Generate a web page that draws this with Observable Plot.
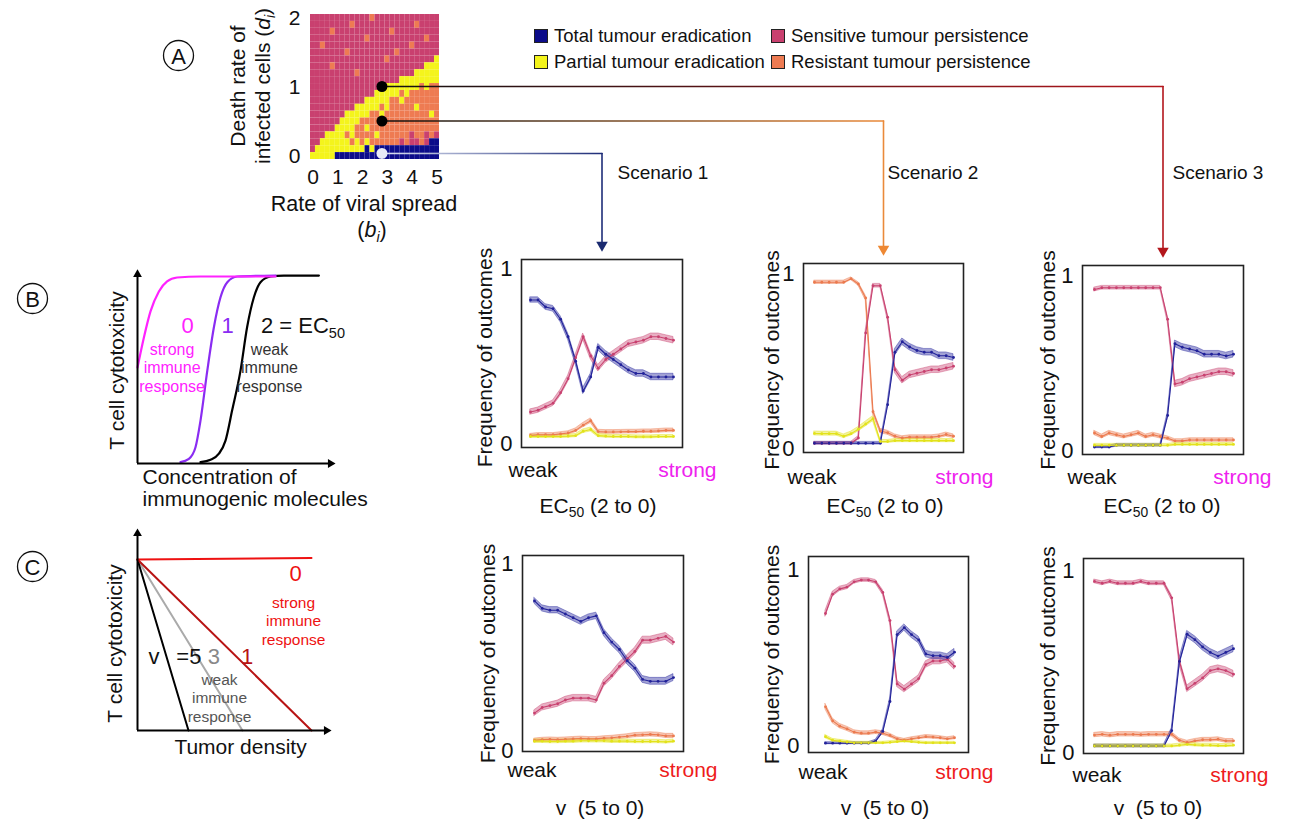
<!DOCTYPE html>
<html>
<head>
<meta charset="utf-8">
<script src="https://cdn.jsdelivr.net/npm/d3@7"></script>
<script src="https://cdn.jsdelivr.net/npm/@observablehq/plot@0.6"></script>
<style>
html,body{margin:0;padding:0;background:#fff;}
#root{position:relative;width:1293px;height:819px;overflow:hidden;font-family:"Liberation Sans",Arial,Helvetica,sans-serif;color:#111;}
#root svg{position:absolute;}
.lbl{position:absolute;white-space:nowrap;transform:translate(-50%,-50%);line-height:1;}
.lbl sub{font-size:0.66em;vertical-align:-0.35em;line-height:0;}
.rot{transform:translate(-50%,-50%) rotate(-90deg);text-align:center;line-height:25px;}
.leg{position:absolute;display:flex;align-items:center;font-size:18.5px;white-space:nowrap;transform:translateY(-50%);}
.sw{width:12px;height:12px;border:1.6px solid #222;margin-right:6px;}
</style>
</head>
<body>
<div id="root"></div>
<script>
// ================= DATA =================
const outcomes = ["Total tumour eradication", "Partial tumour eradication", "Sensitive tumour persistence", "Resistant tumour persistence"];
const heatColors = ["#0c0c8a", "#f4f41c", "#c9406f", "#ee7b52"];
const lineColors = ["#22229a", "#e2e21a", "#c8416f", "#eb7a4f"];

// Panel A: outcome map (rows from d = 2 at top to d = 0 at bottom)
const bValues = [0, 0.2, 0.4, 0.6, 0.8, 1, 1.2, 1.4, 1.6, 1.8, 2, 2.2, 2.4, 2.6, 2.8, 3, 3.2, 3.4, 3.6, 3.8, 4, 4.2, 4.4, 4.6, 4.8, 5];
const dValues = [2, 1.9, 1.8, 1.7, 1.6, 1.5, 1.4, 1.3, 1.2, 1.1, 1, 0.9, 0.8, 0.7, 0.6, 0.5, 0.4, 0.3, 0.2, 0.1, 0];
const gridRows = [
  "PPPPPPPPPPPPOPPPPPPPPPPPPP",
  "PPPPPPPPOPPPPPPPPPPPPOPPPP",
  "PPPPOPPPPPPPPPPPOPPPPPPPPP",
  "PPPPPPPPPPPOPPPPPPPPPPPOPP",
  "PPOPPPPPPPPPPPPPPPPPOPPPPP",
  "PPPPPPPOPPPPPPPPPOPPPPPPPP",
  "PPPPPPPPPPPPPPPOPPPPPPPPPY",
  "PPPPOPPPPPPPPPPPPPPPPPPYYY",
  "PPPPPPPPPOPPPPPPPPPPPYYYYY",
  "PPPPPPPPPPPPPPPPPPYYYYYYYY",
  "PPPPPPPPPPPPPPPYYYYYYYOYOO",
  "PPPPPPPPPPPPPYYYYYOYOOOOOO",
  "PPPPPPPPPPPYYYYYOOYOOOOOOO",
  "PPPPPPPPPYYYYYOYOOOOOYOOOO",
  "PPPPPPPYYYYYOOYOOOOOOOOOYO",
  "PPPPPPYYYYOOOOYOOOOOOOOOOO",
  "PPPPPYYYYOOYOOOOOOOOOOOOOO",
  "PPPYYYYOYOOOOYOOOOOOPOOPOP",
  "PPYYYYYYOYOYOOOOOOPOPPOPNN",
  "PYYYYYYYYYYNYNNNNNNNNNNNNN",
  "YYYYYNNNNNNNNNNNNNNNNNNNNN"
];
const gridCodes = {N: outcomes[0], Y: outcomes[1], P: outcomes[2], O: outcomes[3]};
const xTicksA = [0, 1, 2, 3, 4, 5];
const yTicksA = [0, 1, 2];
const yTicksSmall = [0, 1];

const scenarioNames = ["Scenario 1", "Scenario 2", "Scenario 3"];
const scenarioB = [2.8, 2.8, 2.8];
const scenarioD = [0.03, 0.5, 1.0];

// Row B: EC50 varied (2 to 0)
const s1EC50Total = [0.82, 0.82, 0.78, 0.77, 0.71, 0.61, 0.47, 0.30, 0.38, 0.55, 0.51, 0.48, 0.45, 0.42, 0.40, 0.40, 0.38, 0.38, 0.38, 0.38];
const s1EC50Partial = [0.04, 0.04, 0.04, 0.04, 0.04, 0.042, 0.045, 0.07, 0.08, 0.045, 0.042, 0.04, 0.04, 0.04, 0.038, 0.038, 0.038, 0.04, 0.04, 0.04];
const s1EC50Sensitive = [0.18, 0.19, 0.21, 0.23, 0.29, 0.37, 0.49, 0.61, 0.50, 0.43, 0.48, 0.51, 0.54, 0.57, 0.58, 0.59, 0.61, 0.61, 0.60, 0.59];
const s1EC50Resistant = [0.046, 0.05, 0.05, 0.05, 0.055, 0.06, 0.075, 0.105, 0.13, 0.068, 0.066, 0.066, 0.067, 0.068, 0.068, 0.07, 0.07, 0.072, 0.075, 0.075];

const s2EC50Total = [0.03, 0.03, 0.03, 0.03, 0.03, 0.03, 0.03, 0.03, 0.03, 0.03, 0.25, 0.55, 0.61, 0.58, 0.56, 0.55, 0.55, 0.53, 0.53, 0.52];
const s2EC50Partial = [0.086, 0.085, 0.085, 0.085, 0.07, 0.085, 0.11, 0.14, 0.17, 0.04, 0.04, 0.045, 0.045, 0.045, 0.045, 0.045, 0.045, 0.045, 0.045, 0.045];
const s2EC50Sensitive = [0.03, 0.03, 0.03, 0.03, 0.03, 0.03, 0.06, 0.66, 0.93, 0.93, 0.75, 0.45, 0.39, 0.42, 0.43, 0.44, 0.45, 0.45, 0.46, 0.47];
const s2EC50Resistant = [0.95, 0.95, 0.95, 0.95, 0.95, 0.97, 0.94, 0.86, 0.21, 0.10, 0.09, 0.07, 0.06, 0.065, 0.065, 0.065, 0.065, 0.07, 0.08, 0.07];

const s3EC50Total = [0.02, 0.02, 0.02, 0.03, 0.03, 0.03, 0.03, 0.03, 0.03, 0.03, 0.20, 0.61, 0.59, 0.58, 0.57, 0.55, 0.55, 0.55, 0.54, 0.55];
const s3EC50Partial = [0.03, 0.03, 0.03, 0.03, 0.03, 0.03, 0.03, 0.03, 0.03, 0.03, 0.03, 0.035, 0.035, 0.035, 0.035, 0.035, 0.035, 0.035, 0.035, 0.035];
const s3EC50Sensitive = [0.92, 0.93, 0.93, 0.93, 0.93, 0.93, 0.93, 0.93, 0.93, 0.93, 0.75, 0.38, 0.39, 0.41, 0.42, 0.43, 0.44, 0.45, 0.45, 0.44];
const s3EC50Resistant = [0.10, 0.08, 0.10, 0.09, 0.08, 0.09, 0.10, 0.08, 0.09, 0.08, 0.07, 0.055, 0.055, 0.06, 0.06, 0.06, 0.06, 0.06, 0.06, 0.06];

// Row C: v varied (5 to 0)
const s1VTotal = [0.80, 0.76, 0.75, 0.75, 0.73, 0.71, 0.69, 0.71, 0.72, 0.63, 0.58, 0.54, 0.48, 0.44, 0.38, 0.37, 0.37, 0.37, 0.39];
const s1VPartial = [0.05, 0.05, 0.048, 0.048, 0.05, 0.05, 0.052, 0.052, 0.052, 0.052, 0.05, 0.05, 0.05, 0.048, 0.048, 0.048, 0.048, 0.046, 0.05];
const s1VSensitive = [0.20, 0.23, 0.24, 0.25, 0.27, 0.28, 0.28, 0.28, 0.27, 0.36, 0.40, 0.45, 0.49, 0.53, 0.59, 0.59, 0.60, 0.61, 0.58];
const s1VResistant = [0.054, 0.058, 0.06, 0.058, 0.06, 0.062, 0.064, 0.062, 0.062, 0.066, 0.068, 0.072, 0.076, 0.082, 0.084, 0.086, 0.084, 0.078, 0.078];

const s2VTotal = [0.013, 0.013, 0.013, 0.013, 0.013, 0.013, 0.013, 0.025, 0.08, 0.25, 0.63, 0.67, 0.63, 0.60, 0.52, 0.51, 0.51, 0.50, 0.53];
const s2VPartial = [0.05, 0.03, 0.025, 0.02, 0.015, 0.015, 0.015, 0.015, 0.015, 0.018, 0.022, 0.025, 0.022, 0.018, 0.015, 0.015, 0.015, 0.015, 0.015];
const s2VSensitive = [0.75, 0.86, 0.89, 0.90, 0.93, 0.94, 0.94, 0.93, 0.87, 0.71, 0.35, 0.32, 0.35, 0.38, 0.46, 0.48, 0.48, 0.49, 0.45];
const s2VResistant = [0.22, 0.14, 0.11, 0.095, 0.076, 0.07, 0.07, 0.076, 0.07, 0.057, 0.038, 0.03, 0.038, 0.044, 0.05, 0.048, 0.044, 0.038, 0.044];

const s3VTotal = [0.036, 0.036, 0.036, 0.036, 0.036, 0.036, 0.036, 0.036, 0.036, 0.036, 0.12, 0.50, 0.65, 0.62, 0.58, 0.55, 0.53, 0.55, 0.57];
const s3VPartial = [0.036, 0.036, 0.036, 0.036, 0.036, 0.036, 0.036, 0.036, 0.036, 0.036, 0.036, 0.04, 0.045, 0.042, 0.04, 0.04, 0.038, 0.038, 0.04];
const s3VSensitive = [0.94, 0.93, 0.94, 0.93, 0.93, 0.93, 0.94, 0.93, 0.93, 0.93, 0.85, 0.50, 0.35, 0.38, 0.41, 0.45, 0.46, 0.45, 0.43];
const s3VResistant = [0.096, 0.10, 0.095, 0.10, 0.10, 0.10, 0.098, 0.10, 0.10, 0.10, 0.10, 0.067, 0.055, 0.064, 0.07, 0.07, 0.073, 0.064, 0.064];

// Schematic B: T cell cytotoxicity vs concentration (EC50 = 0, 1, 2)
const ec50Curve0 = [[0, 0.49], [0.32, 0.643], [0.65, 0.776], [1.07, 0.878], [1.48, 0.929], [1.98, 0.949], [3.15, 0.954], [6.9, 0.954]];
const ec50Curve1 = [[2.15, 0.007], [2.57, 0.024], [2.9, 0.083], [3.15, 0.219], [3.49, 0.474], [3.82, 0.695], [4.15, 0.848], [4.49, 0.925], [4.99, 0.954], [6.9, 0.959]];
const ec50Curve2 = [[3.15, 0.007], [3.65, 0.019], [4.07, 0.05], [4.4, 0.117], [4.73, 0.27], [5.15, 0.474], [5.48, 0.695], [5.82, 0.848], [6.15, 0.925], [6.65, 0.954], [7.32, 0.959], [9.07, 0.959]];
// Schematic C: T cell cytotoxicity vs tumour density (v = 0, 1, 3, 5)
const vLine0 = [[0, 0.855], [8.7, 0.862]];
const vLine1 = [[0, 0.855], [8.7, 0]];
const vLine3 = [[0, 0.855], [5.25, 0]];
const vLine5 = [[0, 0.855], [2.55, 0]];

// ================= HELPERS =================
const FONT = "'Liberation Sans', Arial, Helvetica, sans-serif";
const baseStyle = {fontFamily: FONT, background: "transparent", overflow: "visible", color: "#111"};
const root = document.getElementById("root");
function put(svg, left, top) {
  svg.style.position = "absolute";
  svg.style.left = left + "px";
  svg.style.top = top + "px";
  root.appendChild(svg);
  return svg;
}
function html(content, cx, cy, size, color, cls) {
  const d = document.createElement("div");
  d.className = "lbl" + (cls ? " " + cls : "");
  d.style.left = cx + "px";
  d.style.top = cy + "px";
  d.style.fontSize = size + "px";
  if (color) d.style.color = color;
  d.innerHTML = content;
  root.appendChild(d);
  return d;
}
// confidence band half-width (binomial standard-error style, for the shaded ribbons)
const band = v => 0.002 + 0.034 * Math.sqrt(Math.max(v, 0) * Math.max(1 - v, 0));

// ================= PANEL B schematic =================
const B = {left: 97, top: 257, mL: 40, mT: 10, mR: 12, mB: 50, fw: 200, fh: 196};
const plotB = Plot.plot({
  width: B.mL + B.fw + B.mR, height: B.mT + B.fh + B.mB,
  marginLeft: B.mL, marginTop: B.mT, marginRight: B.mR, marginBottom: B.mB,
  style: baseStyle,
  x: {domain: [0, 10], axis: null}, y: {domain: [0, 1], axis: null},
  marks: [
    Plot.line(ec50Curve2, {stroke: "#000", strokeWidth: 2.2, curve: "monotone-x"}),
    Plot.line(ec50Curve1, {stroke: "#8a2cf2", strokeWidth: 2.2, curve: "monotone-x"}),
    Plot.line(ec50Curve0, {stroke: "#ff22ff", strokeWidth: 2.2, curve: "monotone-x"}),
    Plot.ruleX([0], {y1: 0, y2: 0.97, stroke: "#000", strokeWidth: 2}),
    Plot.ruleY([0], {x1: 0, x2: 9.7, stroke: "#000", strokeWidth: 2}),
    Plot.dot([[0, 0.965]], {symbol: "triangle2", r: 4.2, fill: "#000", rotate: 0}),
    Plot.dot([[9.65, 0]], {symbol: "triangle2", r: 4.2, fill: "#000", rotate: 90}),
    Plot.text([{x: 2.5, y: 0.704, t: "0", c: "#ff22ff"}, {x: 4.5, y: 0.704, t: "1", c: "#8a2cf2"}],
      {x: "x", y: "y", text: "t", fill: "c", fontSize: 22}),
    Plot.text(["strong\nimmune\nresponse"], {x: 1.73, y: 0.49, text: d => d, fill: "#ff22ff", fontSize: 16, lineHeight: 1.15}),
    Plot.text(["weak\nimmune\nresponse"], {x: 6.6, y: 0.49, text: d => d, fill: "#333", fontSize: 16, lineHeight: 1.15}),
    Plot.text(["T cell cytotoxicity"], {frameAnchor: "left", text: d => d, rotate: -90, dx: -20, dy: 5, textAnchor: "middle", lineAnchor: "middle", fontSize: 21}),
    Plot.text(["Concentration of\nimmunogenic molecules"], {frameAnchor: "bottom-left", text: d => d, textAnchor: "start", lineAnchor: "top", dx: 5, dy: 5, fontSize: 21, lineHeight: 1.05})
  ]
});
put(plotB, B.left, B.top);
html("2 = EC<sub>50</sub>", 303, 326, 22, "#111");

// ================= PANEL C schematic =================
const C = {left: 97, top: 516, mL: 40, mT: 10, mR: 12, mB: 35, fw: 200, fh: 204};
const plotC = Plot.plot({
  width: C.mL + C.fw + C.mR, height: C.mT + C.fh + C.mB,
  marginLeft: C.mL, marginTop: C.mT, marginRight: C.mR, marginBottom: C.mB,
  style: baseStyle,
  x: {domain: [0, 10], axis: null}, y: {domain: [0, 1.02], axis: null},
  marks: [
    Plot.line(vLine3, {stroke: "#aaaaaa", strokeWidth: 2}),
    Plot.line(vLine5, {stroke: "#000", strokeWidth: 2}),
    Plot.line(vLine1, {stroke: "#b81414", strokeWidth: 2}),
    Plot.line(vLine0, {stroke: "#ee1111", strokeWidth: 2}),
    Plot.ruleX([0], {y1: 0, y2: 0.99, stroke: "#000", strokeWidth: 2}),
    Plot.ruleY([0], {x1: 0, x2: 9.5, stroke: "#000", strokeWidth: 2}),
    Plot.dot([[0, 0.985]], {symbol: "triangle2", r: 4.2, fill: "#000", rotate: 0}),
    Plot.dot([[9.45, 0]], {symbol: "triangle2", r: 4.2, fill: "#000", rotate: 90}),
    Plot.text([
      {x: 7.9, y: 0.785, t: "0", c: "#ee1111"},
      {x: 0.82, y: 0.367, t: "v", c: "#111"},
      {x: 2.57, y: 0.367, t: "=5", c: "#111"},
      {x: 3.82, y: 0.367, t: "3", c: "#888"},
      {x: 5.48, y: 0.367, t: "1", c: "#b81414"}
    ], {x: "x", y: "y", text: "t", fill: "c", fontSize: 22}),
    Plot.text(["strong\nimmune\nresponse"], {x: 7.8, y: 0.55, text: d => d, fill: "#ee1111", fontSize: 15.5, lineHeight: 1.2}),
    Plot.text(["weak\nimmune\nresponse"], {x: 4.1, y: 0.165, text: d => d, fill: "#555", fontSize: 15.5, lineHeight: 1.2}),
    Plot.text(["T cell cytotoxicity"], {frameAnchor: "left", text: d => d, rotate: -90, dx: -22, dy: 15, textAnchor: "middle", lineAnchor: "middle", fontSize: 21}),
    Plot.text(["Tumor density"], {frameAnchor: "bottom", text: d => d, textAnchor: "middle", lineAnchor: "middle", dx: 3, dy: 17, fontSize: 21})
  ]
});
put(plotC, C.left, C.top);

// ================= PANEL A heat map =================
const A = {left: 259.5, top: 8.5, mL: 50, mT: 5, mR: 10, mB: 35, fw: 129, fh: 145};
const gridData = [];
dValues.forEach((d, r) => gridRows[r].split("").forEach((ch, c) => gridData.push({b: bValues[c], d, outcome: gridCodes[ch]})));
const plotA = Plot.plot({
  width: A.mL + A.fw + A.mR, height: A.mT + A.fh + A.mB,
  marginLeft: A.mL, marginTop: A.mT, marginRight: A.mR, marginBottom: A.mB,
  style: baseStyle,
  x: {domain: [-0.1, 5.1]}, y: {domain: [-0.05, 2.05]},
  color: {domain: outcomes, range: heatColors},
  marks: [
    Plot.rect(gridData, {x1: d => d.b - 0.1, x2: d => d.b + 0.1, y1: d => d.d - 0.05, y2: d => d.d + 0.05, fill: "outcome"}),
    Plot.axisX({ticks: xTicksA, tickFormat: "d", tickSize: 0, tickPadding: 10, fontSize: 21, label: null}),
    Plot.axisY({ticks: yTicksA, tickFormat: "d", tickSize: 0, tickPadding: 10, fontSize: 21, label: null})
  ]
});
put(plotA, A.left, A.top);
html("Death rate of<br>infected cells (<i>d<sub>i</sub></i>)", 250, 86, 21, "#111", "rot");
html("Rate of viral spread", 364, 205, 21.5, "#111");
html("(<i>b<sub>i</sub></i>)", 372, 231, 21.5, "#111");

// ================= small outcome panels =================
const panels = [
  {series: [s1EC50Total, s1EC50Partial, s1EC50Sensitive, s1EC50Resistant], frame: [521, 259, 682, 447], y1px: 268, y0px: 443, inset: [9, 9], yLabelDx: -36, yLabelDy: 4, weak: [-13, 23], strong: [34, 23], strongColor: "#ee22ee", xLabel: "EC<sub>50</sub> (2 to 0)", xLabelPos: [598, 505]},
  {series: [s2EC50Total, s2EC50Partial, s2EC50Sensitive, s2EC50Resistant], frame: [803, 263, 963, 452], y1px: 273, y0px: 448, inset: [11, 10], yLabelDx: -31, yLabelDy: 2, weak: [-16, 25], strong: [30, 25], strongColor: "#ee22ee", xLabel: "EC<sub>50</sub> (2 to 0)", xLabelPos: [885, 505]},
  {series: [s3EC50Total, s3EC50Partial, s3EC50Sensitive, s3EC50Resistant], frame: [1082, 265, 1243, 454], y1px: 275, y0px: 450, inset: [12, 10], yLabelDx: -34, yLabelDy: 0, weak: [-15, 23], strong: [28, 23], strongColor: "#ee22ee", xLabel: "EC<sub>50</sub> (2 to 0)", xLabelPos: [1162, 505]},
  {series: [s1VTotal, s1VPartial, s1VSensitive, s1VResistant], frame: [522, 555, 683, 751], y1px: 563, y0px: 750, inset: [12, 10], yLabelDx: -34, yLabelDy: 0, weak: [-15, 19], strong: [34, 19], strongColor: "#ee1c1c", xLabel: "v&nbsp;&nbsp;(5 to 0)", xLabelPos: [600, 807]},
  {series: [s2VTotal, s2VPartial, s2VSensitive, s2VResistant], frame: [808, 556, 968, 752], y1px: 569, y0px: 745, inset: [17, 14], yLabelDx: -36, yLabelDy: 0, weak: [-10, 20], strong: [25, 20], strongColor: "#ee1c1c", xLabel: "v&nbsp;&nbsp;(5 to 0)", xLabelPos: [885, 807]},
  {series: [s3VTotal, s3VPartial, s3VSensitive, s3VResistant], frame: [1083, 558, 1243, 753], y1px: 570, y0px: 752, inset: [11, 10], yLabelDx: -35, yLabelDy: 0, weak: [-11, 22], strong: [25, 22], strongColor: "#ee1c1c", xLabel: "v&nbsp;&nbsp;(5 to 0)", xLabelPos: [1158, 807]}
];
const drawOrder = [3, 2, 0, 1]; // resistant, sensitive, total, partial on top
const SM = {mL: 62, mR: 48, mT: 12, mB: 36};
function smallPlot(p) {
  const [fl, ft, fr, fb] = p.frame;
  const fw = fr - fl, fh = fb - ft;
  const k = p.y0px - p.y1px;
  const n = p.series[0].length;
  const rows = [];
  drawOrder.forEach(si => p.series[si].forEach((v, i) => rows.push({i, v, outcome: outcomes[si], h: band(v)})));
  const svg = Plot.plot({
    width: fw + SM.mL + SM.mR, height: fh + SM.mT + SM.mB,
    marginLeft: SM.mL, marginRight: SM.mR, marginTop: SM.mT, marginBottom: SM.mB,
    style: baseStyle,
    x: {domain: [0, n - 1], insetLeft: p.inset[0], insetRight: p.inset[1], axis: null},
    y: {domain: [(p.y0px - fb) / k, (p.y0px - ft) / k]},
    color: {domain: outcomes, range: lineColors},
    marks: [
      Plot.areaY(rows, {x: "i", y1: d => d.v - d.h, y2: d => d.v + d.h, z: "outcome", fill: "outcome", fillOpacity: 0.42, stroke: "outcome", strokeOpacity: 0.6, strokeWidth: 0.7}),
      Plot.line(rows, {x: "i", y: "v", z: "outcome", stroke: "outcome", strokeWidth: 1.1}),
      Plot.dot(rows, {x: "i", y: "v", fill: "outcome", r: 1.4}),
      Plot.frame({stroke: "#222", strokeWidth: 1.6}),
      Plot.axisY({ticks: yTicksSmall, tickFormat: "d", tickSize: 0, tickPadding: 9, fontSize: 22, label: null}),
      Plot.text(["Frequency of outcomes"], {frameAnchor: "left", text: d => d, rotate: -90, dx: p.yLabelDx, dy: p.yLabelDy, textAnchor: "middle", lineAnchor: "middle", fontSize: 21}),
      Plot.text(["weak"], {frameAnchor: "bottom-left", text: d => d, textAnchor: "start", lineAnchor: "middle", dx: p.weak[0], dy: p.weak[1], fontSize: 21}),
      Plot.text(["strong"], {frameAnchor: "bottom-right", text: d => d, textAnchor: "end", lineAnchor: "middle", dx: p.strong[0], dy: p.strong[1], fontSize: 21, fill: p.strongColor})
    ]
  });
  put(svg, fl - SM.mL, ft - SM.mT);
  html(p.xLabel, p.xLabelPos[0], p.xLabelPos[1], 21, "#111");
  return svg;
}
panels.forEach(smallPlot);

// ================= legend =================
const legendPos = [[534, 36], [534, 62], [771, 36], [771, 62]];
outcomes.forEach((o, i) => {
  const d = document.createElement("div");
  d.className = "leg";
  d.style.left = legendPos[i][0] + "px";
  d.style.top = legendPos[i][1] + "px";
  d.innerHTML = `<span class="sw" style="background:${heatColors[i]}"></span><span>${o}</span>`;
  root.appendChild(d);
});

// ================= overlay: connectors, scenario labels, panel letters =================
const ax = plotA.scale("x"), ay = plotA.scale("y");
const scenStyle = [
  {dot: "#e8eaf6", from: "#dde2f3", to: "#1e2d78", arrow: "#1a2a70", labelX: 617},
  {dot: "#000000", from: "#111111", to: "#ea8a3a", arrow: "#ee8833", labelX: 887},
  {dot: "#000000", from: "#111111", to: "#b3161c", arrow: "#b3161c", labelX: 1172}
];
const conn = scenarioNames.map((name, i) => {
  const p = panels[i];
  const x0 = A.left + ax.apply(scenarioB[i]);
  const y0 = A.top + ay.apply(scenarioD[i]);
  const xt = (p.frame[0] + p.frame[2]) / 2;
  const tip = p.frame[1] - 6;
  return {name, x0, y0, xt, tip, ...scenStyle[i], id: "gS" + (i + 1)};
});
const overlayMarks = [];
conn.forEach(c => {
  overlayMarks.push(Plot.line([[c.x0, c.y0], [c.xt, c.y0]], {stroke: `url(#${c.id})`, strokeWidth: 1.6}));
  overlayMarks.push(Plot.line([[c.xt, c.y0], [c.xt, c.tip - 10]], {stroke: c.to, strokeWidth: 1.6}));
  overlayMarks.push(Plot.dot([[c.xt, c.tip - 8.5]], {symbol: "triangle2", r: 5.5, fill: c.arrow, rotate: 180}));
});
conn.forEach(c => {
  overlayMarks.push(Plot.dot([[c.x0, c.y0]], {r: 5.5, fill: c.dot}));
  overlayMarks.push(Plot.text([c.name], {x: c.labelX, y: 172, text: d => d, textAnchor: "start", fontSize: 19, fill: "#111"}));
});
const letters = [{x: 178, y: 55, t: "A"}, {x: 32, y: 298, t: "B"}, {x: 32, y: 566, t: "C"}];
overlayMarks.push(Plot.dot(letters, {x: "x", y: "y", r: 15, stroke: "#111", strokeWidth: 1.3, fill: "none"}));
overlayMarks.push(Plot.text(letters, {x: "x", y: "y", text: "t", fontSize: 22, fill: "#111", dy: 1}));

const overlay = Plot.plot({
  width: 1293, height: 819, margin: 0,
  style: {...baseStyle, pointerEvents: "none"},
  x: {type: "identity", axis: null}, y: {type: "identity", axis: null},
  marks: overlayMarks
});
const defs = d3.select(overlay).insert("defs", ":first-child");
conn.forEach(c => {
  const g = defs.append("linearGradient").attr("id", c.id).attr("gradientUnits", "userSpaceOnUse")
    .attr("x1", c.x0).attr("x2", c.xt).attr("y1", 0).attr("y2", 0);
  g.append("stop").attr("offset", 0).attr("stop-color", c.from);
  g.append("stop").attr("offset", 1).attr("stop-color", c.to);
});
put(overlay, 0, 0);
</script>
</body>
</html>
